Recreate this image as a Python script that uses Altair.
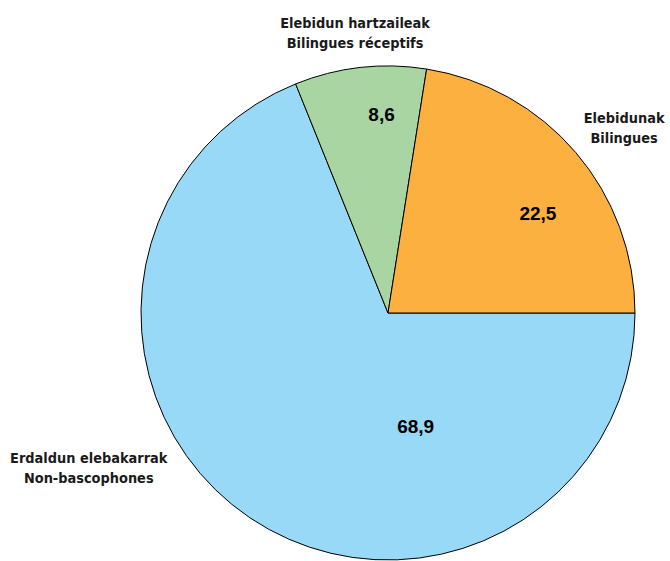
import altair as alt
import pandas as pd

categories = ["Erdaldun elebakarrak", "Elebidun hartzaileak", "Elebidunak"]
labels = ["Erdaldun elebakarrak\nNon-bascophones",
          "Elebidun hartzaileak\nBilingues réceptifs",
          "Elebidunak\nBilingues"]
values = [68.9, 8.6, 22.5]
value_text = ["68,9", "8,6", "22,5"]
colors = ["#97D9F6", "#A8D5A2", "#FBB040"]

df = pd.DataFrame({
    "cat": categories,
    "label": labels,
    "value": values,
    "vtext": value_text,
    "ord": list(range(len(categories))),
})

PI = 3.141592653589793
theta_scale = alt.Scale(type="linear", domain=[0, 100], range=[PI / 2, PI / 2 + 2 * PI])
order = alt.Order("ord:Q")

base = alt.Chart(df)

arc = base.mark_arc(outerRadius=247, stroke="black", strokeWidth=1).encode(
    theta=alt.Theta("value:Q", stack=True, scale=theta_scale),
    order=order,
    color=alt.Color("cat:N", scale=alt.Scale(domain=categories, range=colors), legend=None),
)

# midpoint of each slice, computed from the stacked values
mid_base = base.transform_window(
    cum="sum(value)", sort=[alt.SortField("ord")], frame=[None, 0]
).transform_calculate(mid="datum.cum - datum.value / 2")
mid_theta = alt.Theta("mid:Q", stack=None, scale=theta_scale)

def num_layer(cat, r, dx, dy):
    return mid_base.transform_filter(alt.datum.cat == cat).mark_text(
        font="Liberation Sans", fontWeight="bold", fontSize=19, color="black",
        align="center", baseline="middle", dx=dx, dy=dy,
    ).encode(theta=mid_theta, radius=alt.value(r), text="vtext:N")

def lab_layer(cat, r, dx, dy):
    return mid_base.transform_filter(alt.datum.cat == cat).mark_text(
        font="DejaVu Sans Condensed", fontWeight="bold", fontSize=14.4, color="#1a1a1a",
        align="center", baseline="middle", lineBreak="\n", lineHeight=20, dx=dx, dy=dy,
    ).encode(theta=mid_theta, radius=alt.value(r), text="label:N")

layers = [
    arc,
    num_layer(categories[0], 140, 106, -2),
    num_layer(categories[1], 199, 16, 0),
    num_layer(categories[2], 180, 13, 18),
    lab_layer(categories[0], 290, -137, -94),
    lab_layer(categories[1], 283, -1, -8),
    lab_layer(categories[2], 300, 8, 1),
]

chart = alt.layer(*layers).properties(
    width=494, height=494,
    autosize=alt.AutoSizeParams(type="none"),
    padding={"left": 141, "top": 66, "right": 35, "bottom": 1},
).configure_view(stroke=None).configure(background="white")

chart.save("out.html", embed_options={"renderer": "svg", "actions": False})
